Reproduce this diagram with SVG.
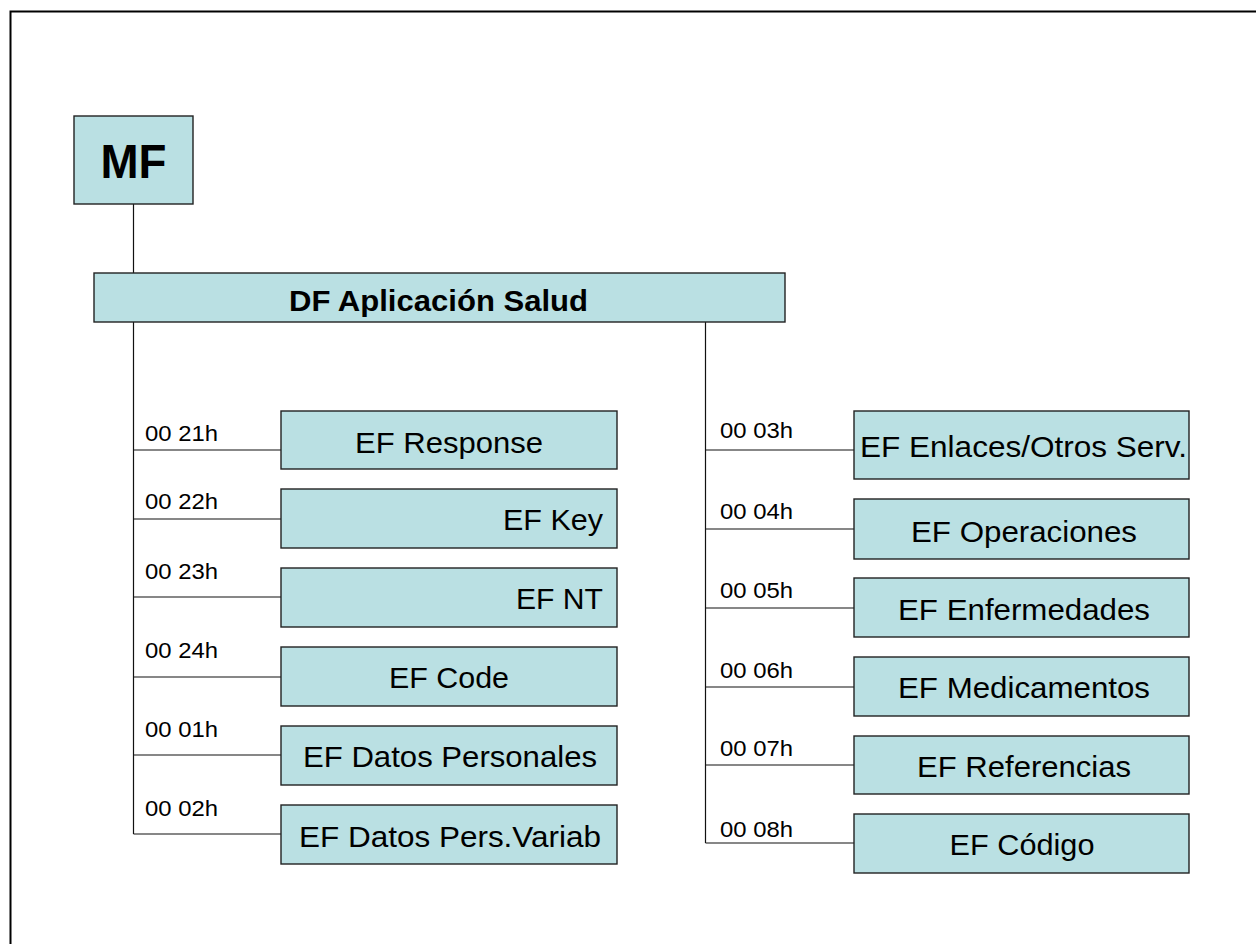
<svg xmlns="http://www.w3.org/2000/svg" width="1256" height="944" viewBox="0 0 1256 944">
<style>
.box{fill:#bae0e3;stroke:#222;stroke-width:1.4}
.t{font-family:"Liberation Sans",Arial,sans-serif;font-size:30px;fill:#000}
.b{font-family:"Liberation Sans",Arial,sans-serif;font-weight:bold;fill:#000}
.lbl{font-family:"Liberation Sans",Arial,sans-serif;font-size:22px;fill:#000}
.c{fill:none;stroke:#111;stroke-width:1.2}
</style>
<rect x="10.5" y="11.5" width="1400" height="1100" fill="none" stroke="#000" stroke-width="2"/>
<g id="connectors">
<path class="c" d="M133.5 204V273M133.5 322V834M133.5 450H281M133.5 519H281M133.5 597H281M133.5 677H281M133.5 755H281M133.5 834H281"/>
<path class="c" d="M705.5 322V843M705.5 450H854M705.5 529H854M705.5 608H854M705.5 687H854M705.5 765H854M705.5 843H854"/>
</g>
<g id="mf"><rect class="box" x="74" y="116" width="119" height="88"/><text class="b" x="133.5" y="178" font-size="48" text-anchor="middle" textLength="66" lengthAdjust="spacingAndGlyphs">MF</text></g>
<g id="df"><rect class="box" x="94" y="273" width="691" height="49"/><text class="b" x="438.5" y="311" font-size="30" text-anchor="middle" textLength="299" lengthAdjust="spacingAndGlyphs">DF Aplicación Salud</text></g>
<g id="ef-response"><rect class="box" x="281" y="411" width="336" height="58"/><text class="lbl" x="145" y="441" textLength="73" lengthAdjust="spacingAndGlyphs">00 21h</text><text class="t" x="449" y="453" text-anchor="middle" textLength="188" lengthAdjust="spacingAndGlyphs">EF Response</text></g>
<g id="ef-key"><rect class="box" x="281" y="489" width="336" height="59"/><text class="lbl" x="145" y="509" textLength="73" lengthAdjust="spacingAndGlyphs">00 22h</text><text class="t" x="603" y="530" text-anchor="end" textLength="100" lengthAdjust="spacingAndGlyphs">EF Key</text></g>
<g id="ef-nt"><rect class="box" x="281" y="568" width="336" height="59"/><text class="lbl" x="145" y="579" textLength="73" lengthAdjust="spacingAndGlyphs">00 23h</text><text class="t" x="603" y="609" text-anchor="end" textLength="87" lengthAdjust="spacingAndGlyphs">EF NT</text></g>
<g id="ef-code"><rect class="box" x="281" y="647" width="336" height="59"/><text class="lbl" x="145" y="658" textLength="73" lengthAdjust="spacingAndGlyphs">00 24h</text><text class="t" x="449" y="688" text-anchor="middle" textLength="120" lengthAdjust="spacingAndGlyphs">EF Code</text></g>
<g id="ef-datos-personales"><rect class="box" x="281" y="726" width="336" height="59"/><text class="lbl" x="145" y="737" textLength="73" lengthAdjust="spacingAndGlyphs">00 01h</text><text class="t" x="450" y="767" text-anchor="middle" textLength="294" lengthAdjust="spacingAndGlyphs">EF Datos Personales</text></g>
<g id="ef-datos-pers-variab"><rect class="box" x="281" y="805" width="336" height="59"/><text class="lbl" x="145" y="816" textLength="73" lengthAdjust="spacingAndGlyphs">00 02h</text><text class="t" x="450" y="847" text-anchor="middle" textLength="302" lengthAdjust="spacingAndGlyphs">EF Datos Pers.Variab</text></g>
<g id="ef-enlaces"><rect class="box" x="854" y="411" width="335" height="68"/><text class="lbl" x="720" y="438" textLength="73" lengthAdjust="spacingAndGlyphs">00 03h</text><text class="t" x="860" y="457" textLength="327" lengthAdjust="spacingAndGlyphs">EF Enlaces/Otros Serv.</text></g>
<g id="ef-operaciones"><rect class="box" x="854" y="499" width="335" height="60"/><text class="lbl" x="720" y="519" textLength="73" lengthAdjust="spacingAndGlyphs">00 04h</text><text class="t" x="1024" y="542" text-anchor="middle" textLength="226" lengthAdjust="spacingAndGlyphs">EF Operaciones</text></g>
<g id="ef-enfermedades"><rect class="box" x="854" y="578" width="335" height="59"/><text class="lbl" x="720" y="598" textLength="73" lengthAdjust="spacingAndGlyphs">00 05h</text><text class="t" x="1024" y="620" text-anchor="middle" textLength="252" lengthAdjust="spacingAndGlyphs">EF Enfermedades</text></g>
<g id="ef-medicamentos"><rect class="box" x="854" y="657" width="335" height="59"/><text class="lbl" x="720" y="678" textLength="73" lengthAdjust="spacingAndGlyphs">00 06h</text><text class="t" x="1024" y="698" text-anchor="middle" textLength="252" lengthAdjust="spacingAndGlyphs">EF Medicamentos</text></g>
<g id="ef-referencias"><rect class="box" x="854" y="736" width="335" height="58"/><text class="lbl" x="720" y="756" textLength="73" lengthAdjust="spacingAndGlyphs">00 07h</text><text class="t" x="1024" y="777" text-anchor="middle" textLength="214" lengthAdjust="spacingAndGlyphs">EF Referencias</text></g>
<g id="ef-codigo"><rect class="box" x="854" y="814" width="335" height="59"/><text class="lbl" x="720" y="837" textLength="73" lengthAdjust="spacingAndGlyphs">00 08h</text><text class="t" x="1022" y="855" text-anchor="middle" textLength="145" lengthAdjust="spacingAndGlyphs">EF Código</text></g>
</svg>
